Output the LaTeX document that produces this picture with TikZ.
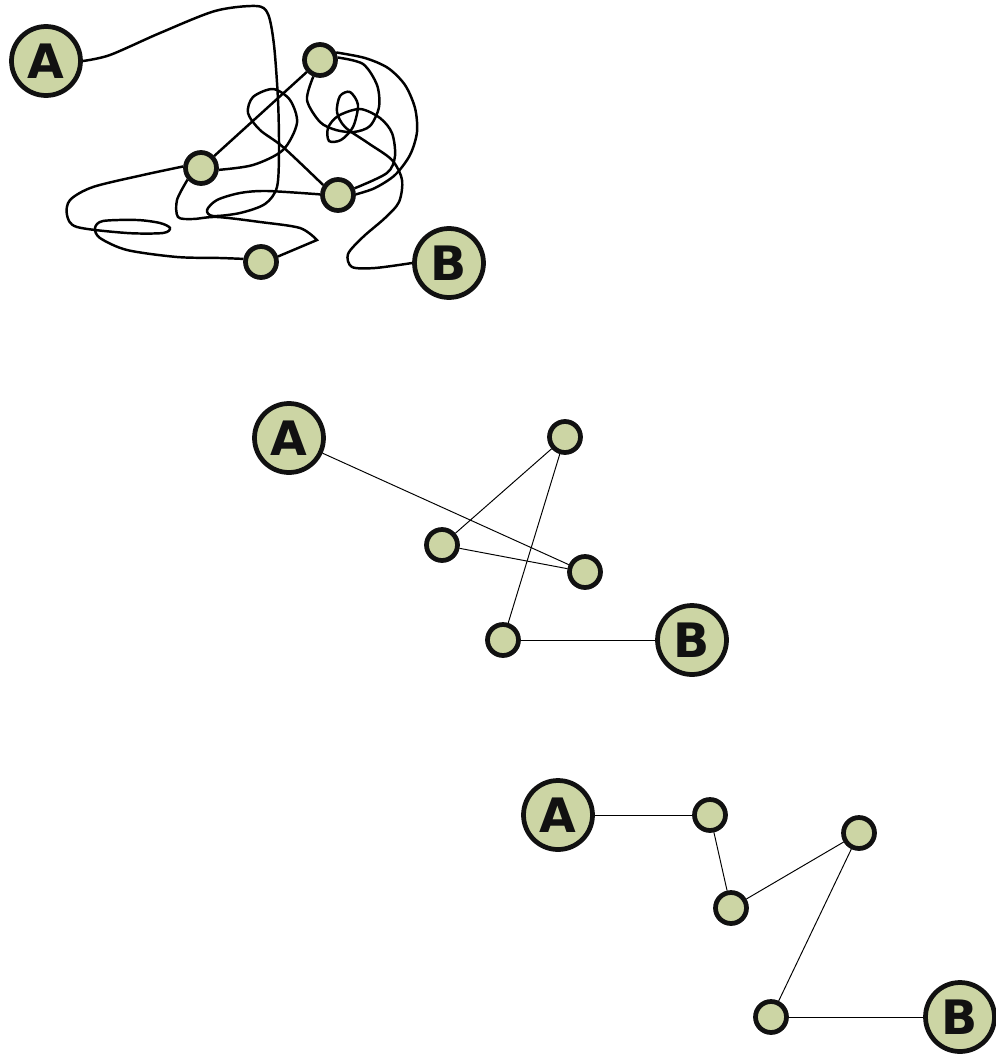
\documentclass[tikz,border=0pt]{standalone}
\usepackage{fontspec}
\setsansfont{DejaVu Sans}
\definecolor{sage}{RGB}{204,213,164}
\definecolor{ink}{RGB}{17,17,17}
\begin{document}
\begin{tikzpicture}[
    x=0.02cm, y=-0.02cm,
    endpt/.style={circle, draw=ink, fill=sage, line width=0.095cm,
                  minimum size=1.38cm, inner sep=0pt,
                  font=\sffamily\bfseries\fontsize{27pt}{27pt}\selectfont, text=ink},
    hop/.style={circle, draw=ink, fill=sage, line width=0.095cm,
                minimum size=0.62cm, inner sep=0pt},
    wire/.style={line width=1.4pt, black},
    link/.style={line width=0.55pt, black},
]
\useasboundingbox (0,0) rectangle (995,1055);

% Tangled graph (top)
\node[endpt] (aTop) at (46,61)  {A};
\node[endpt] (bTop) at (449,263) {B};
\node[hop] (t1) at (320,60)  {};
\node[hop] (t2) at (201,168) {};
\node[hop] (t3) at (338,195) {};
\node[hop] (t4) at (261,262) {};

% A -> over the top -> down -> t3
\draw[wire] plot[smooth] coordinates {(aTop.east) (110,55) (160,33)
    (215,11) (256,6) (268,14) (274,45) (278,100) (279,150) (277,187) (265,204)
    (240,213) (213,216) (207,210) (217,200) (240,193) (267,191) (t3.178)};

% t2 -> down -> sharp bend -> t4
\draw[wire] plot[smooth] coordinates {(t2.221) (177,200) (178,217) (193,219)
    (217,217) (260,222) (300,228) (317,240)} -- (t4.18);

% t2 -> wide loop on the left -> t4
\draw[wire] plot[smooth] coordinates {(t2.175) (143,175) (93,187) (70,200)
    (67,215) (77,227) (127,233) (163,233) (170,228) (160,223) (137,220)
    (103,221) (95,228) (100,238) (127,250) (177,257) (220,258) (t4.170)};

% t1 -> t2 straight
\draw[wire] (t1) -- (t2);

% t2 -> loop -> t3
\draw[wire] plot[smooth] coordinates {(t2.-6) (253,165) (283,150) (297,123)
    (290,100) (273,89) (253,97) (248,113) (260,130) (283,147) (t3.146)};

% t1 -> loop back into t1
\draw[wire] plot[smooth] coordinates {(t1.-112) (307,100) (320,122) (336,130)
    (354,132) (370,126) (379,107) (377,85) (363,64) (t1.8)};

% t1 -> outer arc -> t3
\draw[wire] plot[smooth] coordinates {(t1.25) (365,58) (388,68) (405,85)
    (415,108) (417,132) (410,155) (395,175) (375,188) (t3.2)};

% t3 -> curls -> B
\draw[wire] plot[smooth] coordinates {(t3.22) (387,173) (395,156) (392,133)
    (380,118) (360,109) (338,116) (328,128) (329,141) (341,140) (353,127)
    (358,105) (350,92) (340,96) (337,112) (345,127) (368,143) (392,160)
    (402,180) (399,202) (385,218) (363,237) (348,254) (352,267) (375,268)
    (bTop.west)};

% Untangled graph (middle)
\node[endpt] (aMid) at (289,438) {A};
\node[endpt] (bMid) at (692,640) {B};
\node[hop] (m1) at (565,437) {};
\node[hop] (m2) at (442,545) {};
\node[hop] (m3) at (585,572) {};
\node[hop] (m4) at (503,640) {};

\draw[link] (aMid) -- (m3);
\draw[link] (m1) -- (m2);
\draw[link] (m2) -- (m3);
\draw[link] (m1) -- (m4);
\draw[link] (m4) -- (bMid);

% Simple path (bottom)
\node[endpt] (aBot) at (558,815)  {A};
\node[endpt] (bBot) at (960,1017) {B};
\node[hop] (k1) at (710,815) {};
\node[hop] (k2) at (731,908) {};
\node[hop] (k3) at (859,833) {};
\node[hop] (k4) at (771,1017) {};

\draw[link] (aBot) -- (k1);
\draw[link] (k1) -- (k2);
\draw[link] (k2) -- (k3);
\draw[link] (k3) -- (k4);
\draw[link] (k4) -- (bBot);

\end{tikzpicture}
\end{document}
